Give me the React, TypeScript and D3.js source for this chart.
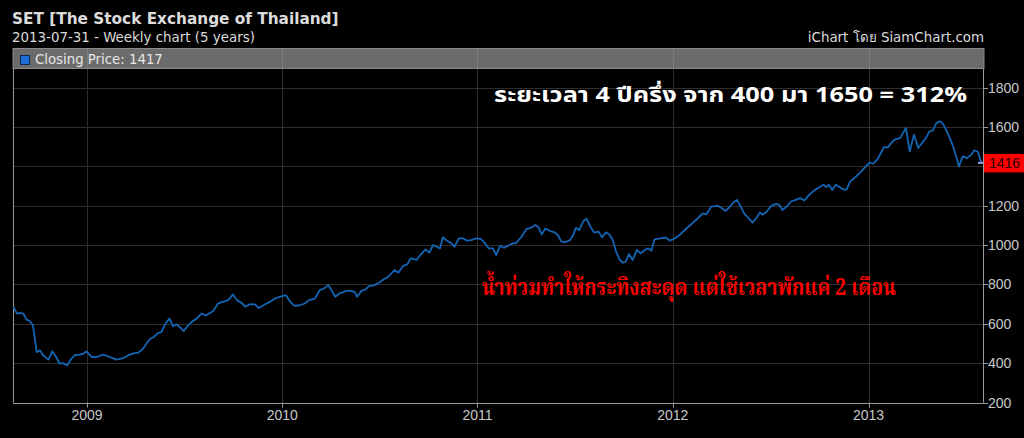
import React from "react";
import * as d3 from "d3";

const dates: string[] = [
  "2008-08-16","2008-08-23","2008-08-29","2008-09-04","2008-09-10","2008-09-16","2008-09-22","2008-09-29","2008-10-05","2008-10-11",
  "2008-10-21","2008-10-28","2008-11-05","2008-11-11","2008-11-17","2008-11-25","2008-12-03","2008-12-09","2008-12-19","2008-12-25",
  "2008-12-31","2009-01-10","2009-01-19","2009-01-31","2009-02-13","2009-02-25","2009-03-10","2009-03-22","2009-03-31","2009-04-07",
  "2009-04-16","2009-04-28","2009-05-06","2009-05-14","2009-05-20","2009-05-28","2009-06-04","2009-06-11","2009-06-17","2009-06-23",
  "2009-07-01","2009-07-09","2009-07-18","2009-07-25","2009-08-03","2009-08-12","2009-08-25","2009-09-03","2009-09-12","2009-09-22",
  "2009-10-01","2009-10-08","2009-10-17","2009-10-24","2009-11-01","2009-11-11","2009-11-18","2009-11-30","2009-12-09","2009-12-18",
  "2009-12-27","2010-01-08","2010-01-16","2010-01-24","2010-02-03","2010-02-12","2010-02-20","2010-03-03","2010-03-12","2010-03-20",
  "2010-03-28","2010-04-03","2010-04-10","2010-04-18","2010-05-01","2010-05-10","2010-05-16","2010-05-21","2010-05-29","2010-06-06",
  "2010-06-12","2010-06-21","2010-06-29","2010-07-09","2010-07-18","2010-07-30","2010-08-06","2010-08-15","2010-08-23","2010-08-29",
  "2010-09-09","2010-09-16","2010-09-26","2010-10-03","2010-10-10","2010-10-17","2010-10-23","2010-10-28","2010-11-05","2010-11-13",
  "2010-11-19","2010-11-27","2010-12-05","2010-12-12","2010-12-20","2010-12-30","2011-01-07","2011-01-14","2011-01-22","2011-01-30",
  "2011-02-05","2011-02-12","2011-02-20","2011-03-02","2011-03-08","2011-03-14","2011-03-24","2011-04-02","2011-04-11","2011-04-19",
  "2011-04-25","2011-05-01","2011-05-08","2011-05-16","2011-05-25","2011-05-31","2011-06-07","2011-06-15","2011-06-23","2011-06-29",
  "2011-07-04","2011-07-10","2011-07-18","2011-07-24","2011-07-31","2011-08-07","2011-08-15","2011-08-22","2011-08-29","2011-09-04",
  "2011-09-11","2011-09-17","2011-09-24","2011-09-30","2011-10-05","2011-10-11","2011-10-18","2011-10-26","2011-11-02","2011-11-10",
  "2011-11-16","2011-11-22","2011-11-28","2011-12-08","2011-12-19","2011-12-27","2012-01-05","2012-01-14","2012-01-27","2012-02-08",
  "2012-02-17","2012-02-26","2012-03-04","2012-03-13","2012-03-25","2012-04-02","2012-04-09","2012-04-17","2012-04-22","2012-04-30",
  "2012-05-07","2012-05-14","2012-05-22","2012-05-29","2012-06-05","2012-06-12","2012-06-17","2012-06-25","2012-07-03","2012-07-12",
  "2012-07-18","2012-07-24","2012-08-01","2012-08-09","2012-08-18","2012-08-26","2012-09-03","2012-09-12","2012-09-23","2012-10-03",
  "2012-10-09","2012-10-14","2012-10-19","2012-10-25","2012-11-01","2012-11-09","2012-11-17","2012-11-21","2012-11-28","2012-12-09",
  "2012-12-18","2012-12-27","2013-01-03","2013-01-10","2013-01-18","2013-01-30","2013-02-06","2013-02-15","2013-02-21","2013-03-01",
  "2013-03-12","2013-03-19","2013-03-27","2013-04-04","2013-04-11","2013-04-18","2013-04-25","2013-05-01","2013-05-08","2013-05-15",
  "2013-05-21","2013-05-29","2013-06-07","2013-06-13","2013-06-19","2013-06-26","2013-07-04","2013-07-12","2013-07-18","2013-07-24",
  "2013-07-31",
];

const closes: number[] = [
  686,652,655,652,621,614,592,456,465,440,
  418,460,428,397,400,389,423,440,443,448,
  460,431,431,443,431,418,426,443,451,453,
  474,521,533,553,558,601,626,587,597,584,
  563,592,614,626,652,643,665,703,711,720,
  749,720,706,686,699,698,680,699,711,728,
  737,745,711,691,694,703,720,728,771,779,
  796,771,737,754,767,767,762,737,767,774,
  791,795,805,825,838,873,859,893,903,932,
  924,949,978,961,1000,991,983,1039,1022,1009,
  991,1034,1034,1022,1025,1034,1031,1012,983,983,
  949,995,986,1000,1009,1009,1042,1079,1088,1102,
  1090,1054,1084,1072,1064,1051,1017,1015,1025,1051,
  1088,1076,1122,1133,1094,1063,1068,1039,1064,1056,
  1025,966,924,910,915,954,924,975,958,975,
  983,971,1029,1034,1038,1022,1034,1051,1085,1114,
  1136,1161,1156,1195,1199,1187,1173,1195,1212,1229,
  1195,1158,1136,1114,1136,1165,1153,1170,1199,1209,
  1204,1178,1195,1221,1229,1238,1226,1255,1280,1297,
  1306,1294,1306,1280,1306,1292,1280,1283,1323,1348,
  1373,1399,1419,1413,1436,1497,1496,1526,1538,1543,
  1594,1475,1560,1493,1518,1543,1577,1581,1620,1628,
  1611,1569,1509,1459,1399,1450,1441,1459,1481,1475,
  1417,
];

const yTicks: number[] = [200, 400, 600, 800, 1000, 1200, 1400, 1600, 1800];
const yLabels: number[] = [200, 400, 600, 800, 1000, 1200, 1600, 1800];
const xTickYears: string[] = ["2009", "2010", "2011", "2012", "2013"];
const domainStart = "2008-08-15T16:00";
const domainEnd = "2013-08-03T00:00";

const title = "SET [The Stock Exchange of Thailand]";
const subtitle = "2013-07-31 - Weekly chart (5 years)";
const credit = "iChart โดย SiamChart.com";
const legendText = "Closing Price: 1417";
const lastLabel = "1416";
const noteWhite = "ระยะเวลา 4 ปีครึ่ง จาก 400 มา 1650 = 312%";
const noteRed = "น้ำท่วมทำให้กระทิงสะดุด แต่ใช้เวลาพักแค่ 2 เดือน";

export default function App() {
  const W = 1024, H = 438;
  const left = 13, right = 983, bottom = 402.5;
  const parse = d3.utcParse("%Y-%m-%d");
  const parseT = d3.utcParse("%Y-%m-%dT%H:%M");
  const x = d3.scaleUtc().domain([parseT(domainStart)!, parseT(domainEnd)!]).range([left, right]);
  const y = d3.scaleLinear().domain([200, 1800]).range([402.5, 87.5]);
  const data = dates.map((d, i) => ({ date: parse(d)!, v: closes[i] }));
  const line = d3.line<{ date: Date; v: number }>().x(d => x(d.date)).y(d => y(d.v));
  const last = data[data.length - 1];
  const lastY = y(last.v);
  const yearX = xTickYears.map(yr => ({ yr, px: x(parse(`${yr}-01-01`)!) }));

  const axisFont = "'Liberation Sans', Arial, sans-serif";
  const uiFont = "'DejaVu Sans', Verdana, sans-serif";

  return (
    <svg width={W} height={H} style={{ position: "absolute", left: 0, top: 0, background: "#000" }}>
      <rect x={0} y={0} width={W} height={H} fill="#000" />
      <text x={12} y={24} fill="#dcdcdc" fontFamily={uiFont} fontWeight="bold" fontSize={15.3}>{title}</text>
      <text x={12} y={42} fill="#dcdcdc" fontFamily={uiFont} fontSize={13.4}>{subtitle}</text>
      <text x={984} y={42} fill="#dcdcdc" fontFamily={uiFont} fontSize={13.4} textAnchor="end">{credit}</text>

      {/* legend band */}
      <rect x={left} y={48.5} width={right - left + 1} height={20} fill="#6b6b6b" stroke="#8a8a8a" strokeWidth={1} />
      {yearX.map(t => (
        <line key={"bg" + t.yr} x1={Math.round(t.px) + 0.5} x2={Math.round(t.px) + 0.5} y1={49} y2={68} stroke="#7c7c7c" strokeWidth={1} />
      ))}
      <rect x={20.5} y={55.5} width={9} height={9} fill="#1c6fd8" stroke="#0a2a55" strokeWidth={1} />
      <text x={35} y={64} fill="#e6e6e6" fontFamily={uiFont} fontSize={13.3}>{legendText}</text>

      {/* grid */}
      {yTicks.filter(v => v > 200).map(v => (
        <line key={"gy" + v} x1={left} x2={right} y1={Math.round(y(v)) + 0.5} y2={Math.round(y(v)) + 0.5} stroke="#2e2e2e" strokeWidth={1} />
      ))}
      {yearX.map(t => (
        <line key={"gx" + t.yr} x1={Math.round(t.px) + 0.5} x2={Math.round(t.px) + 0.5} y1={69} y2={bottom} stroke="#2e2e2e" strokeWidth={1} />
      ))}

      {/* frame */}
      <line x1={left + 0.5} x2={left + 0.5} y1={69} y2={bottom} stroke="#9a9a9a" strokeWidth={1} />
      <line x1={left} x2={right} y1={Math.round(bottom) + 0.5} y2={Math.round(bottom) + 0.5} stroke="#9a9a9a" strokeWidth={1} />
      <line x1={right + 0.5} x2={right + 0.5} y1={69} y2={bottom} stroke="#9a9a9a" strokeWidth={1} />

      {/* y ticks + labels */}
      {yTicks.map(v => (
        <line key={"ty" + v} x1={right} x2={right + 5} y1={Math.round(y(v)) + 0.5} y2={Math.round(y(v)) + 0.5} stroke="#9a9a9a" strokeWidth={1} />
      ))}
      {yLabels.map(v => (
        <text key={"ly" + v} x={988} y={y(v) + 5} fill="#c8c8c8" fontFamily={axisFont} fontSize={14}>{v}</text>
      ))}

      {/* x ticks + labels */}
      {yearX.map(t => (
        <g key={"tx" + t.yr}>
          <line x1={Math.round(t.px) + 0.5} x2={Math.round(t.px) + 0.5} y1={bottom} y2={bottom + 5} stroke="#9a9a9a" strokeWidth={1} />
          <text x={t.px} y={420} fill="#c8c8c8" fontFamily={axisFont} fontSize={14} textAnchor="middle">{t.yr}</text>
        </g>
      ))}

      {/* price line */}
      <path d={line(data) || ""} fill="none" stroke="#1464b4" strokeWidth={1.8} strokeLinejoin="round" />

      {/* last value marker */}
      <line x1={right - 5} x2={right} y1={lastY} y2={lastY} stroke="#9a9ae0" strokeWidth={2} />
      <rect x={984} y={lastY - 9} width={40} height={18.5} fill="#ff0000" />
      <text x={989} y={lastY + 5} fill="#2a0000" fontFamily={axisFont} fontSize={14}>{lastLabel}</text>

      {/* annotations */}
      <text x={494} y={102} fill="#ffffff" fontFamily="Tahoma, 'Noto Sans Thai', 'DejaVu Sans', sans-serif" fontWeight="bold" fontSize={20.5}
        textLength={473} lengthAdjust="spacingAndGlyphs">{noteWhite}</text>
      <text x={482} y={295} fill="#ff0000" fontFamily="'Noto Serif Thai', 'Angsana New', serif" fontWeight="bold" fontSize={23}
        textLength={414} lengthAdjust="spacingAndGlyphs">{noteRed}</text>
    </svg>
  );
}
